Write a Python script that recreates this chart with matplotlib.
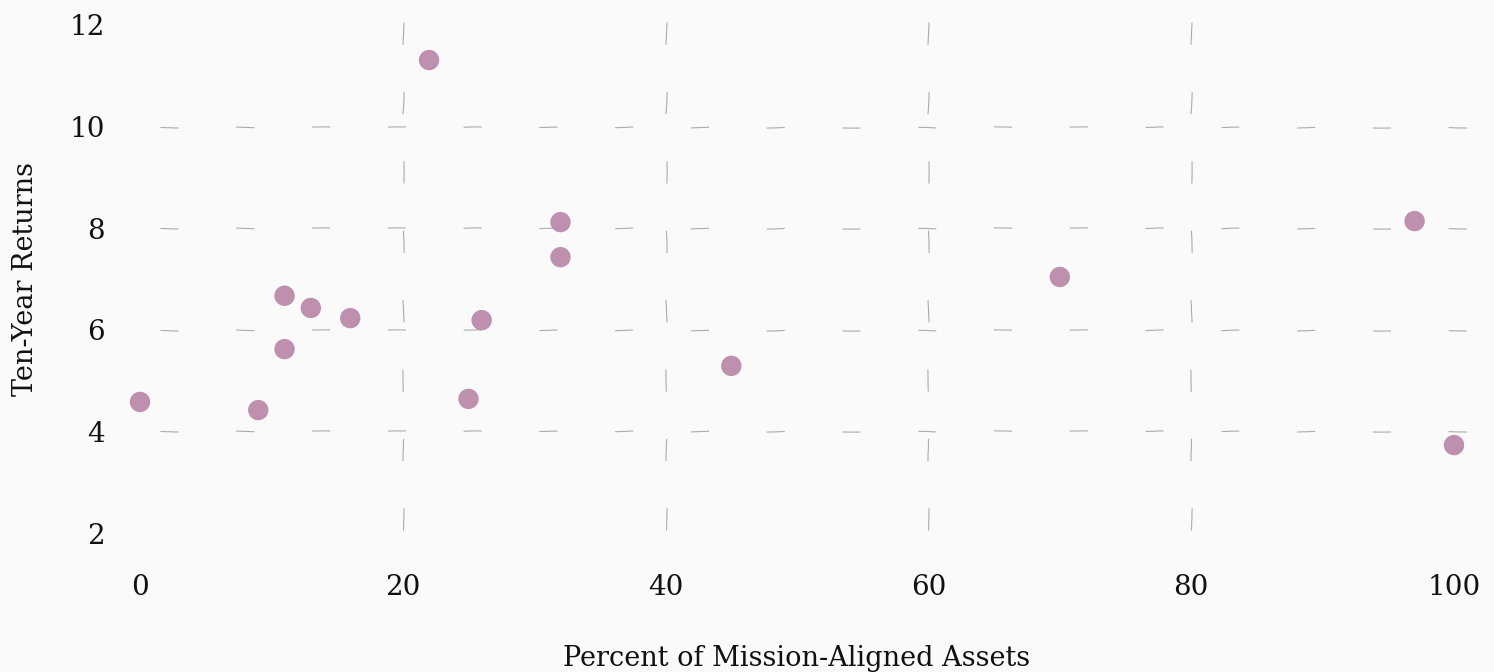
import matplotlib
matplotlib.use("Agg")
import matplotlib.pyplot as plt

# Data
mission_aligned_pct = [0, 9, 11, 11, 13, 16, 22, 25, 26, 32, 32, 45, 70, 97, 100]
ten_year_returns = [4.58, 4.42, 6.67, 5.62, 6.43, 6.23, 11.31, 4.64, 6.19, 8.12, 7.43, 5.29, 7.04, 8.14, 3.73]
x_ticks = [0, 20, 40, 60, 80, 100]
y_ticks = [2, 4, 6, 8, 10, 12]
x_grid = [20, 40, 60, 80]
y_grid = [4, 6, 8, 10]

plt.rcParams['font.family'] = ['DejaVu Serif']
plt.rcParams['lines.scale_dashes'] = False

W, H, DPI = 1494, 672, 100
fig = plt.figure(figsize=(W / DPI, H / DPI), dpi=DPI, facecolor='#fafafa')

# axes placement (pixels)
x0_px, x100_px = 140, 1454
y2_px, y12_px = 533, 25
xlim = (-1.0, 101.0)
ylim = (1.8, 12.2)
sx = (x100_px - x0_px) / 100.0
sy = (y2_px - y12_px) / 10.0
left = x0_px + (xlim[0] - 0) * sx
right = x0_px + (xlim[1] - 0) * sx
top = y12_px - (ylim[1] - 12) * sy
bottom = y2_px + (2 - ylim[0]) * sy
ax = fig.add_axes([left / W, 1 - bottom / H, (right - left) / W, (bottom - top) / H])
ax.set_facecolor('#fafafa')
ax.set_xlim(*xlim)
ax.set_ylim(*ylim)

grid_kw = dict(color='#8a8a8a', lw=0.8, alpha=0.7, zorder=1, clip_on=False)
for gy in y_grid:
    ln, = ax.plot([1.5, 101.0], [gy, gy], **grid_kw)
    ln.set_dashes((13, 41.6))
    ln.set_sketch_params(scale=0.6, length=120, randomness=4)
for gx in x_grid:
    ln, = ax.plot([gx, gx], [2.05, 12.2], **grid_kw)
    ln.set_dashes((16, 34))
    ln.set_sketch_params(scale=0.6, length=120, randomness=4)

ax.scatter(mission_aligned_pct, ten_year_returns, s=215, color='#bf8fae',
           edgecolors='none', zorder=3)

ax.set_xticks(x_ticks)
ax.set_yticks(y_ticks)
ax.tick_params(length=0, labelsize=20, colors='#111111')
ax.tick_params(axis='y', pad=16)
ax.tick_params(axis='x', pad=22)
for s in ax.spines.values():
    s.set_visible(False)

ax.set_xlabel('Percent of Mission-Aligned Assets', fontsize=19.5, color='#111111', labelpad=32)
ax.set_ylabel('Ten-Year Returns', fontsize=19.5, color='#111111', labelpad=22)

fig.savefig('out.png', dpi=DPI, facecolor=fig.get_facecolor())
